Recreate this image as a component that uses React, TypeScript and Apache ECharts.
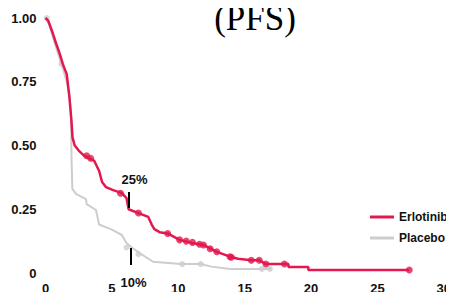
import React, { useEffect, useRef } from "react";
import * as echarts from "echarts";

const titleText = "(PFS)";
const seriesNames = ["Erlotinib", "Placebo"];
const xTicks = [0, 5, 10, 15, 20, 25, 30];
const yTicks = [0, 0.25, 0.5, 0.75, 1.0];

const erlotinibCurve: [number, number][] = [
  [0, 1.0], [0.2, 0.99], [0.55, 0.94], [0.8, 0.9], [1.07, 0.86], [1.3, 0.82], [1.6, 0.78],
  [1.8, 0.69], [1.95, 0.6], [2.04, 0.53], [2.2, 0.5], [2.5, 0.48], [2.9, 0.46], [3.3, 0.45],
  [3.67, 0.44], [4.04, 0.4], [4.26, 0.357], [4.55, 0.337], [5.1, 0.325], [5.75, 0.313],
  [6.1, 0.294], [6.26, 0.25], [7.0, 0.235], [7.74, 0.22], [8.0, 0.19], [8.2, 0.172], [8.6, 0.16],
  [9.2, 0.155], [10.1, 0.13], [11.0, 0.118], [11.9, 0.11], [12.9, 0.083], [13.9, 0.064],
  [14.5, 0.056], [15.5, 0.05], [16.1, 0.05], [16.6, 0.035], [18.3, 0.035], [18.3, 0.024],
  [19.8, 0.024], [19.8, 0.012], [27.4, 0.012],
];
const placeboCurve: [number, number][] = [
  [0, 1.0], [0.3, 0.97], [0.7, 0.9], [1.2, 0.82], [1.6, 0.75], [1.8, 0.7], [1.92, 0.62],
  [1.96, 0.45], [2.02, 0.33], [2.3, 0.31], [3.05, 0.29], [3.1, 0.27], [3.8, 0.247], [4.04, 0.19],
  [5.0, 0.17], [5.75, 0.149], [6.1, 0.118], [6.5, 0.1], [7.1, 0.078], [8.1, 0.044],
  [10.2, 0.035], [11.7, 0.035], [12.5, 0.025], [13.9, 0.016], [17.0, 0.016],
];
const erlotinibCensor: [number, number][] = [
  [3.1, 0.46], [3.4, 0.45], [5.65, 0.313], [7.0, 0.235], [9.2, 0.155], [10.1, 0.13],
  [10.6, 0.125], [11.07, 0.12], [11.6, 0.113], [11.9, 0.11], [12.4, 0.095], [12.9, 0.083],
  [13.9, 0.064], [14.0, 0.062], [15.5, 0.05], [16.1, 0.05], [16.6, 0.035], [18.0, 0.035],
  [27.4, 0.012],
];
const placeboCensor: [number, number][] = [
  [0.1, 1.0], [1.2, 0.82], [6.1, 0.1], [7.0, 0.074], [10.3, 0.035], [11.7, 0.035],
  [16.3, 0.016], [16.9, 0.016],
];
const annotationLabels = ["25%", "10%"];
const annotationLines: [number, number, number][] = [
  [6.26, 0.318, 0.255],
  [6.4, 0.098, 0.031],
];
const annotationLabelPos: [number, number][] = [
  [6.7, 0.365],
  [6.63, -0.039],
];

const RED = "#E2184E";
const GRAY = "#CDCDCD";
const FONT = "Arial, 'Liberation Sans', sans-serif";

export default function App() {
  const ref = useRef<HTMLDivElement>(null);
  useEffect(() => {
    if (!ref.current) return;
    const chart = echarts.init(ref.current, undefined, { renderer: "svg" });
    chart.setOption({
      animation: false,
      grid: { left: 45.5, right: 4, top: 18, bottom: 27 },
      xAxis: {
        type: "value",
        min: xTicks[0],
        max: xTicks[xTicks.length - 1],
        interval: 5,
        axisLine: { show: false },
        axisTick: { show: false },
        splitLine: { show: false },
        axisLabel: { color: "#111", fontWeight: "bold", fontSize: 13, fontFamily: FONT, margin: 9 },
      },
      yAxis: {
        type: "value",
        min: yTicks[0],
        max: yTicks[yTicks.length - 1],
        interval: 0.25,
        axisLine: { show: false },
        axisTick: { show: false },
        splitLine: { show: false },
        axisLabel: {
          color: "#111",
          fontWeight: "bold",
          fontSize: 13,
          fontFamily: FONT,
          margin: 9,
          formatter: (v: number) => (v === 0 ? "0" : v.toFixed(2)),
        },
      },
      legend: {
        data: seriesNames.map((n) => ({ name: n, icon: "rect" })),
        orient: "vertical",
        left: 365,
        top: 206,
        itemWidth: 24,
        itemHeight: 3,
        itemGap: 9,
        textStyle: { color: "#111", fontWeight: "bold", fontSize: 12, fontFamily: FONT, padding: [0, 0, 0, 0] },
      },
      series: [
        {
          name: seriesNames[1],
          type: "line",
          data: placeboCurve,
          symbol: "none",
          lineStyle: { color: GRAY, width: 2 },
          itemStyle: { color: GRAY },
          z: 2,
        },
        {
          name: seriesNames[0],
          type: "line",
          data: erlotinibCurve,
          symbol: "none",
          lineStyle: { color: RED, width: 2.5 },
          itemStyle: { color: RED },
          z: 3,
        },
        {
          name: "placeboCensor",
          type: "scatter",
          data: placeboCensor,
          symbolSize: 6,
          itemStyle: { color: GRAY },
          z: 2,
        },
        {
          name: "erlotinibCensor",
          type: "scatter",
          data: erlotinibCensor,
          symbolSize: 7,
          itemStyle: { color: RED },
          z: 3,
        },
        {
          name: "annot",
          type: "line",
          data: [],
          markLine: {
            silent: true,
            symbol: "none",
            label: { show: false },
            lineStyle: { color: "#000", width: 2, type: "solid" },
            data: annotationLines.map(([t, a, b]) => [{ coord: [t, a] }, { coord: [t, b] }]),
          },
        },
      ],
    });
    const texts = annotationLabels.map((txt, i) => {
      const p = chart.convertToPixel({ gridIndex: 0 }, annotationLabelPos[i]) as number[];
      return {
        type: "text",
        x: p[0],
        y: p[1],
        style: {
          text: txt,
          fill: "#111",
          font: `bold 13px ${FONT}`,
          textAlign: "center",
          textVerticalAlign: "middle",
        },
      };
    });
    chart.setOption({
      graphic: [
        {
          type: "text",
          x: 255,
          y: 18,
          style: {
            text: titleText,
            fill: "#000",
            font: "35px 'Liberation Serif', 'Times New Roman', serif",
            textAlign: "center",
            textVerticalAlign: "middle",
          },
        },
        ...texts,
      ],
    });
    return () => chart.dispose();
  }, []);
  return <div ref={ref} style={{ width: 454, height: 300, margin: -8 }} />;
}
